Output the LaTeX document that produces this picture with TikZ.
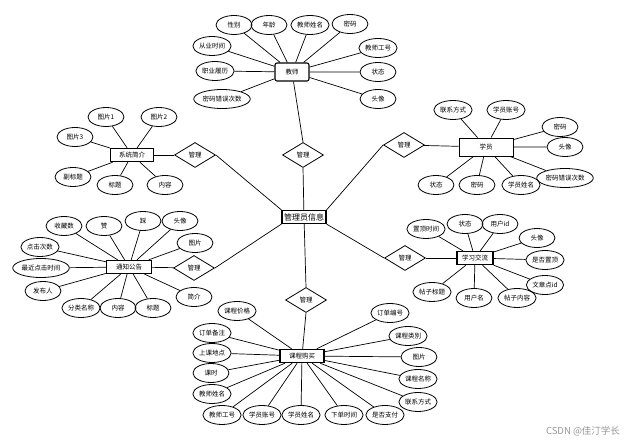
\documentclass[tikz,border=0pt]{standalone}
\usepackage{fontspec}
\newfontfamily\cjk{Noto Sans CJK SC}
\usetikzlibrary{shapes.geometric}

\tikzset{
  attr/.style={draw, ellipse, line width=0.8pt, minimum width=36pt, minimum height=19pt,
    inner xsep=0.5pt, inner ysep=1pt, font=\cjk\fontsize{6.5}{7}\selectfont},
  ent/.style={draw, rectangle, line width=1.4pt, minimum height=13pt, inner xsep=2pt,
    inner ysep=1pt, font=\cjk\fontsize{6.5}{7}\selectfont},
  rel/.style={draw, diamond, line width=0.8pt, minimum width=41pt, minimum height=25pt,
    inner sep=0pt, font=\cjk\fontsize{6.5}{7}\selectfont},
  link/.style={line width=0.7pt},
}

\begin{document}
\begin{tikzpicture}[x=1pt, y=-1pt]
\useasboundingbox (0,0) rectangle (633,443);
%% Center entity
\node[ent, line width=1.2pt, inner xsep=2pt, font=\cjk\fontsize{8}{9}\selectfont] (admin) at (304,217) {管理员信息};

%% Teacher
\node[ent, line width=1.1pt, rounded corners=2pt, minimum width=34pt, minimum height=18pt] (teacher) at (292,72) {教师};
\node[attr] (tsex) at (234,25) {性别};
\node[attr] (tage) at (269,25) {年龄};
\node[attr] (tname) at (310,25) {教师姓名};
\node[attr] (tpwd) at (350,24) {密码};
\node[attr] (tjob) at (212,46) {从业时间};
\node[attr] (tno) at (378,48) {教师工号};
\node[attr] (tcareer) at (215,71) {职业履历};
\node[attr] (tstate) at (378,72) {状态};
\node[attr] (tpwderr) at (222,99) {密码错误次数};
\node[attr] (tavatar) at (378,99) {头像};
\node[rel] (admt) at (303,155) {管理};
\draw[link] (teacher) -- (tsex) (teacher) -- (tage) (teacher) -- (tname) (teacher) -- (tpwd)
  (teacher) -- (tjob) (teacher) -- (tno) (teacher) -- (tcareer) (teacher) -- (tstate)
  (teacher) -- (tpwderr) (teacher) -- (tavatar);
\draw[link] (teacher) -- (admt.north);
\draw[link] (admt.south) -- (admin);

%% System intro
\node[ent, minimum width=43pt] (intro) at (132,155) {系统简介};
\node[attr] (ipic1) at (106,117) {图片1};
\node[attr] (ipic2) at (159,117) {图片2};
\node[attr] (ipic3) at (75,137) {图片3};
\node[attr] (isub) at (73,177) {副标题};
\node[attr] (ititle) at (115,185) {标题};
\node[attr] (itext) at (165,185) {内容};
\node[rel] (admi) at (195,155) {管理};
\draw[link] (intro) -- (ipic1) (intro) -- (ipic2) (intro) -- (ipic3) (intro) -- (isub)
  (intro) -- (ititle) (intro) -- (itext);
\draw[link] (intro) -- (admi);
\draw[link] (admi.east) -- (admin.north west);

%% Notice
\node[ent, minimum width=45pt] (notice) at (129,267) {通知公告};
\node[attr] (nfav) at (64,226) {收藏数};
\node[attr] (nlike) at (104,226) {赞};
\node[attr] (ndis) at (143,221) {踩};
\node[attr] (navatar) at (180,221) {头像};
\node[attr] (npic) at (195,243) {图片};
\node[attr] (nclick) at (40,247) {点击次数};
\node[attr] (nlast) at (41,268) {最近点击时间};
\node[attr] (npub) at (43,291) {发布人};
\node[attr] (ncat) at (81,308) {分类名称};
\node[attr] (ntext) at (118,308) {内容};
\node[attr] (ntitle) at (153,308) {标题};
\node[attr] (nbrief) at (194,297) {简介};
\node[rel] (admn) at (194,268) {管理};
\draw[link] (notice) -- (nfav) (notice) -- (nlike) (notice) -- (ndis) (notice) -- (navatar)
  (notice) -- (npic) (notice) -- (nclick) (notice) -- (nlast) (notice) -- (npub)
  (notice) -- (ncat) (notice) -- (ntext) (notice) -- (ntitle) (notice) -- (nbrief);
\draw[link] (notice) -- (admn);
\draw[link] (admn.east) -- (admin.south west);

%% Student
\node[ent, line width=0.9pt, minimum width=54pt, minimum height=18pt] (student) at (486,147) {学员};
\node[attr] (sphone) at (453,110) {联系方式};
\node[attr] (sacc) at (506,110) {学员账号};
\node[attr] (spwda) at (560,127) {密码};
\node[attr] (savatar) at (565,147) {头像};
\node[attr] (spwderr) at (565,178) {密码错误次数};
\node[attr] (sstate) at (436,185) {状态};
\node[attr] (spwdb) at (477,185) {密码};
\node[attr] (sname) at (521,185) {学员姓名};
\node[rel] (adms) at (404,145) {管理};
\draw[link] (student) -- (sphone) (student) -- (sacc) (student) -- (spwda) (student) -- (savatar)
  (student) -- (spwderr) (student) -- (sstate) (student) -- (spwdb) (student) -- (sname);
\draw[link] (student) -- (adms);
\draw[link] (adms.west) -- (admin.north east);

%% Forum
\node[ent, minimum width=36pt] (forum) at (475,258) {学习交流};
\node[attr] (fttime) at (426,229) {置顶时间};
\node[attr] (fstate) at (465,224) {状态};
\node[attr] (fuid) at (500,224) {用户id};
\node[attr] (favatar) at (537,238) {头像};
\node[attr] (ftop) at (545,260) {是否置顶};
\node[attr] (faid) at (545,285) {文章点id};
\node[attr] (ftitle) at (432,292) {帖子标题};
\node[attr] (fuser) at (474,298) {用户名};
\node[attr] (ftext) at (517,298) {帖子内容};
\node[rel] (admf) at (405,258) {管理};
\draw[link] (forum) -- (fttime) (forum) -- (fstate) (forum) -- (fuid) (forum) -- (favatar)
  (forum) -- (ftop) (forum) -- (faid) (forum) -- (ftitle) (forum) -- (fuser) (forum) -- (ftext);
\draw[link] (forum) -- (admf);
\draw[link] (admf.west) -- (admin.south east);

%% Course purchase
\node[ent, minimum width=44pt] (course) at (302,356) {课程购买};
\node[attr] (cprice) at (237,311) {课程价格};
\node[attr] (cnote) at (212,333) {订单备注};
\node[attr] (cplace) at (212,353) {上课地点};
\node[attr] (chour) at (211,373) {课时};
\node[attr] (ctname) at (212,394) {教师姓名};
\node[attr] (ctno) at (222,415) {教师工号};
\node[attr] (csacc) at (262,415) {学员账号};
\node[attr] (csname) at (301,415) {学员姓名};
\node[attr] (ctime) at (344,415) {下单时间};
\node[attr] (cpaid) at (385,415) {是否支付};
\node[attr] (cphone) at (418,402) {联系方式};
\node[attr] (cname) at (418,379) {课程名称};
\node[attr] (cpic) at (419,357) {图片};
\node[attr] (ccat) at (408,336) {课程类别};
\node[attr] (cno) at (390,313) {订单编号};
\node[rel] (admc) at (306,300) {管理};
\draw[link] (course) -- (cprice) (course) -- (cnote) (course) -- (cplace) (course) -- (chour)
  (course) -- (ctname) (course) -- (ctno) (course) -- (csacc) (course) -- (csname)
  (course) -- (ctime) (course) -- (cpaid) (course) -- (cphone) (course) -- (cname)
  (course) -- (cpic) (course) -- (ccat) (course) -- (cno);
\draw[link] (admin) -- (admc.north);
\draw[link] (admc.south) -- (course);

%% Watermark
\definecolor{markgray}{RGB}{150,150,150}
\node[text=markgray, font=\cjk\fontsize{9.5}{10}\selectfont] (mark) at (583,431) {CSDN @佳汀学长};
\end{tikzpicture}
\end{document}
